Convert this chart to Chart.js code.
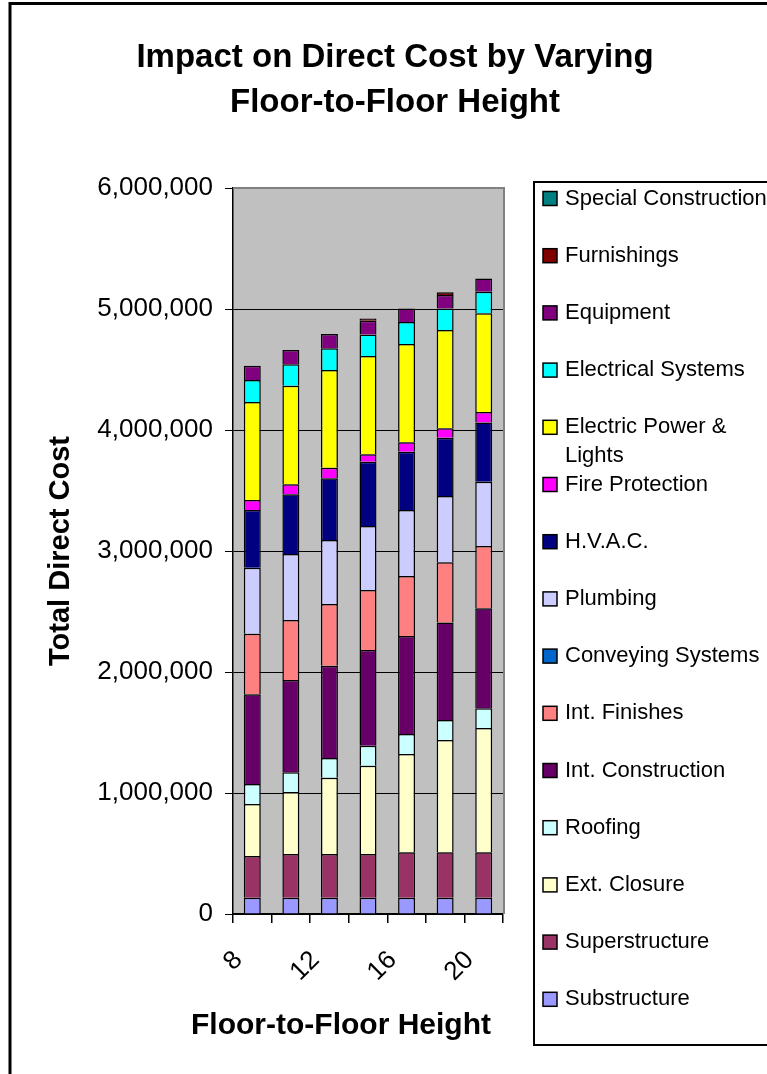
<!DOCTYPE html>
<html><head><meta charset="utf-8">
<script src="https://cdn.jsdelivr.net/npm/chart.js@4.4.0/dist/chart.umd.min.js"></script>
<style>html,body{margin:0;padding:0;background:#fff;overflow:hidden}canvas{display:block}</style>
</head><body>
<canvas id="c" width="767" height="1074"></canvas>
<script>
const FONT = "'Liberation Sans', Arial, sans-serif";

// Floor-to-floor heights (categories) and visible tick labels
const categories = ['8', '10', '12', '14', '16', '18', '20'];
const tickLabels = ['8', '', '12', '', '16', '', '20'];

// Series values (direct cost per building element)
const substructure        = [135000, 135000, 135000, 135000, 135000, 135000, 135000];
const superstructure      = [344000, 361000, 361000, 361000, 375000, 375000, 375000];
const extClosure          = [430000, 512000, 631000, 730000, 812000, 928000, 1027000];
const roofing             = [165000, 163000, 162000, 165000, 166000, 165000, 163000];
const intConstruction     = [742000, 763000, 763000, 791000, 810000, 807000, 826000];
const intFinishes         = [501000, 496000, 510000, 496000, 495000, 496000, 515000];
const conveyingSystems    = [0, 0, 0, 0, 0, 0, 0];
const plumbing            = [545000, 545000, 529000, 529000, 546000, 549000, 532000];
const hvac                = [477000, 493000, 510000, 531000, 482000, 481000, 490000];
const fireProtection      = [82000, 83000, 88000, 61000, 77000, 78000, 86000];
const electricPower       = [810000, 815000, 807000, 813000, 813000, 812000, 815000];
const electricalSystems   = [182000, 177000, 179000, 178000, 182000, 179000, 179000];
const equipment           = [119000, 118000, 118000, 113000, 112000, 111000, 110000];
const furnishings         = [0, 0, 0, 18000, 0, 22000, 0];
const specialConstruction = [0, 0, 0, 0, 0, 0, 0];

const seriesNames = ['Substructure', 'Superstructure', 'Ext. Closure', 'Roofing', 'Int. Construction',
  'Int. Finishes', 'Conveying Systems', 'Plumbing', 'H.V.A.C.', 'Fire Protection',
  'Electric Power & Lights', 'Electrical Systems', 'Equipment', 'Furnishings', 'Special Construction'];
const seriesData = [substructure, superstructure, extClosure, roofing, intConstruction, intFinishes,
  conveyingSystems, plumbing, hvac, fireProtection, electricPower, electricalSystems, equipment,
  furnishings, specialConstruction];
const seriesColors = ['#9999FF', '#993366', '#FFFFCC', '#CCFFFF', '#660066', '#FF8080', '#0066CC',
  '#CCCCFF', '#000080', '#FF00FF', '#FFFF00', '#00FFFF', '#800080', '#800000', '#008080'];

const yTicks = [0, 1000000, 2000000, 3000000, 4000000, 5000000, 6000000];

const titleLines = ['Impact on Direct Cost by Varying', 'Floor-to-Floor Height'];
const xTitle = 'Floor-to-Floor Height';
const yTitle = 'Total Direct Cost';

function wrapText(ctx, text, maxW) {
  const words = text.split(' ');
  const lines = [];
  let cur = '';
  for (const w of words) {
    const t = cur ? cur + ' ' + w : w;
    if (ctx.measureText(t).width > maxW && cur) { lines.push(cur); cur = w; }
    else cur = t;
  }
  if (cur) lines.push(cur);
  return lines;
}

const decor = {
  id: 'decor',
  beforeDraw(chart) {
    const {ctx, chartArea: a} = chart;
    ctx.save();
    ctx.fillStyle = '#fff';
    ctx.fillRect(0, 0, chart.width, chart.height);
    ctx.fillStyle = '#C0C0C0';
    ctx.fillRect(a.left, a.top, a.right - a.left, a.bottom - a.top);
    ctx.restore();
  },
  afterDraw(chart) {
    const {ctx, chartArea: a} = chart;
    ctx.save();
    // plot area grey border (top + right)
    ctx.strokeStyle = '#808080';
    ctx.lineWidth = 2;
    ctx.beginPath();
    ctx.moveTo(a.left, a.top);
    ctx.lineTo(a.right + 1, a.top);
    ctx.lineTo(a.right + 1, a.bottom);
    ctx.stroke();
    // outer frame
    ctx.strokeStyle = '#000';
    ctx.lineWidth = 3;
    ctx.strokeRect(10, 3.5, 820, 1120);
    // main title
    ctx.fillStyle = '#000';
    ctx.textAlign = 'center';
    ctx.textBaseline = 'alphabetic';
    ctx.font = 'bold 33px ' + FONT;
    ctx.fillText(titleLines[0], 395, 67);
    ctx.fillText(titleLines[1], 395, 112);
    // x axis title
    ctx.font = 'bold 30px ' + FONT;
    ctx.fillText(xTitle, 341, 1034);
    // legend
    ctx.lineWidth = 2;
    ctx.strokeRect(534, 182, 300, 863);
    ctx.font = '22px ' + FONT;
    ctx.textAlign = 'left';
    ctx.textBaseline = 'middle';
    const ds = chart.data.datasets.slice().reverse();
    ds.forEach((d, i) => {
      const y = 198.5 + 57.2 * i;
      ctx.fillStyle = d.backgroundColor;
      ctx.fillRect(543, y - 7, 14, 14);
      ctx.strokeStyle = '#000';
      ctx.lineWidth = 1.5;
      ctx.strokeRect(543, y - 7, 14, 14);
      ctx.fillStyle = '#000';
      const lines = wrapText(ctx, d.label, 205);
      lines.forEach((ln, k) => ctx.fillText(ln, 565, y + k * 28.3));
    });
    ctx.restore();
  }
};

new Chart(document.getElementById('c'), {
  type: 'bar',
  data: {
    labels: categories,
    datasets: seriesNames.map((n, i) => ({
      label: n,
      data: seriesData[i],
      backgroundColor: seriesColors[i],
      borderColor: '#000',
      borderWidth: 1.5,
      inflateAmount: 0,
      barPercentage: 0.44,
      categoryPercentage: 1
    }))
  },
  options: {
    responsive: false,
    animation: false,
    devicePixelRatio: 1,
    layout: {padding: {top: 188, right: 264, left: 0, bottom: 0}},
    plugins: {legend: {display: false}, tooltip: {enabled: false}, title: {display: false}},
    scales: {
      x: {
        stacked: true,
        grid: {display: true, drawOnChartArea: false, drawTicks: true, tickLength: 9, color: '#000', lineWidth: 1.5, offset: true},
        border: {display: true, color: '#000', width: 1.5},
        ticks: {
          autoSkip: false, maxRotation: 45, minRotation: 45, color: '#000',
          font: {size: 26, family: FONT}, padding: 22, labelOffset: -14,
          callback: (v, i) => tickLabels[i]
        },
        afterFit: s => { s.height = 160; }
      },
      y: {
        stacked: true,
        min: yTicks[0], max: yTicks[yTicks.length - 1],
        afterBuildTicks: s => { s.ticks = yTicks.map(v => ({value: v})); },
        ticks: {color: '#000', font: {size: 26, family: FONT}, padding: 12,
          callback: v => Number(v).toLocaleString('en-US')},
        grid: {color: c => (c.tick && c.tick.value === 6000000) ? '#808080' : '#000', tickColor: '#000', tickLength: 8, lineWidth: 1},
        border: {color: '#000', width: 1.5},
        title: {display: true, text: yTitle, color: '#000', font: {size: 29, weight: 'bold', family: FONT}, padding: {top: 44, bottom: 0}},
        afterFit: s => { s.width = 233; }
      }
    }
  },
  plugins: [decor]
});
</script>
</body></html>
